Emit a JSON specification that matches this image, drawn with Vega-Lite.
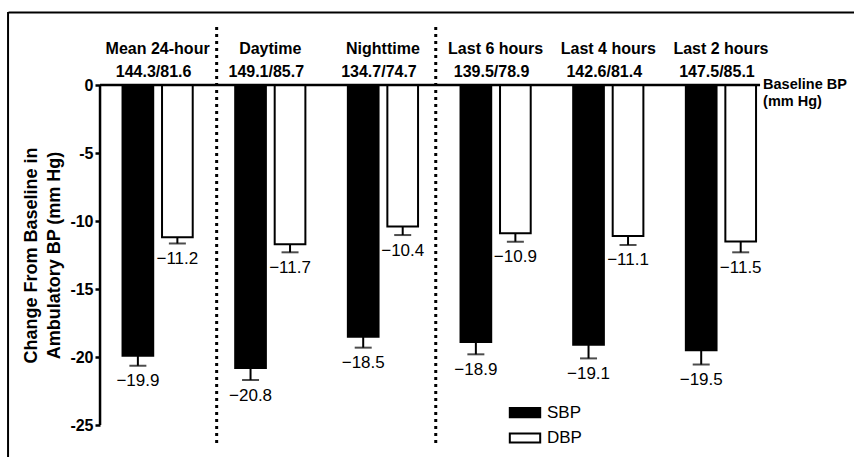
{
  "$schema": "https://vega.github.io/schema/vega-lite/v6.json",
  "width": 846,
  "height": 445,
  "autosize": "none",
  "padding": {"left": 8, "top": 12, "right": 0, "bottom": 0},
  "background": "white",
  "config": {"view": {"stroke": null}, "font": "Liberation Sans", "text": {"font": "Liberation Sans", "color": "black"}},
  "datasets": {
    "bp": [
      {"group": "Mean 24-hour", "series": "SBP", "value": -19.9, "lower": -20.64},
      {"group": "Mean 24-hour", "series": "DBP", "value": -11.2, "lower": -11.65},
      {"group": "Daytime", "series": "SBP", "value": -20.8, "lower": -21.69},
      {"group": "Daytime", "series": "DBP", "value": -11.7, "lower": -12.3},
      {"group": "Nighttime", "series": "SBP", "value": -18.5, "lower": -19.31},
      {"group": "Nighttime", "series": "DBP", "value": -10.4, "lower": -11.03},
      {"group": "Last 6 hours", "series": "SBP", "value": -18.9, "lower": -19.8},
      {"group": "Last 6 hours", "series": "DBP", "value": -10.9, "lower": -11.52},
      {"group": "Last 4 hours", "series": "SBP", "value": -19.1, "lower": -20.1},
      {"group": "Last 4 hours", "series": "DBP", "value": -11.1, "lower": -11.76},
      {"group": "Last 2 hours", "series": "SBP", "value": -19.5, "lower": -20.55},
      {"group": "Last 2 hours", "series": "DBP", "value": -11.5, "lower": -12.3}
    ],
    "groups": [
      {"group": "Mean 24-hour", "baseline": "144.3/81.6"},
      {"group": "Daytime", "baseline": "149.1/85.7"},
      {"group": "Nighttime", "baseline": "134.7/74.7"},
      {"group": "Last 6 hours", "baseline": "139.5/78.9"},
      {"group": "Last 4 hours", "baseline": "142.6/81.4"},
      {"group": "Last 2 hours", "baseline": "147.5/85.1"}
    ],
    "one": [{}]
  },
  "data": {"name": "bp"},
  "layer": [
    {
      "mark": {"type": "bar", "stroke": "black", "strokeWidth": 2},
      "encoding": {
        "x": {"field": "group", "type": "nominal", "sort": null,
          "scale": {"type": "band", "domain": ["Mean 24-hour", "Daytime", "Nighttime", "Last 6 hours", "Last 4 hours", "Last 2 hours"], "paddingInner": 0.377, "paddingOuter": 0.943, "align": 0.539},
          "axis": {"orient": "top", "domain": true, "domainColor": "black", "domainWidth": 2, "labels": false, "ticks": false, "title": null, "grid": false}},
        "xOffset": {"field": "series", "type": "nominal", "scale": {"domain": ["SBP", "DBP"], "paddingInner": 0.223, "paddingOuter": 0}},
        "y": {"field": "value", "type": "quantitative",
          "scale": {"domain": [-27.35, 5.37], "nice": false, "zero": false},
          "axis": {"orient": "left", "offset": -92, "values": [0, -5, -10, -15, -20, -25], "domain": false, "ticks": true, "tickColor": "black", "tickWidth": 2.5, "tickSize": 5, "labelFont": "Liberation Sans", "labelFontSize": 16, "labelFontWeight": "bold", "labelColor": "black", "labelPadding": 2, "grid": false,
            "labelExpr": "datum.value == 0 ? '0' : '-' + abs(datum.value)",
            "title": ["Change From Baseline in", "Ambulatory BP (mm Hg)"], "titleFont": "Liberation Sans", "titleFontSize": 18, "titleFontWeight": "bold", "titleColor": "black", "titleLineHeight": 23, "titleX": -69, "titleY": 243, "titleAlign": "center", "titleBaseline": "middle", "titleAngle": -90}},
        "y2": {"datum": 0},
        "color": {"field": "series", "type": "nominal",
          "scale": {"domain": ["SBP", "DBP"], "range": ["black", "white"]},
          "legend": {"orient": "none", "legendX": 508, "legendY": 391.6, "title": null, "padding": 0,
            "symbolType": "M-2,-0.6H2V0.6H-2Z", "symbolSize": 231, "symbolStrokeColor": "black", "symbolStrokeWidth": 2, "symbolFillColor": null,
            "labelFont": "Liberation Sans", "labelFontSize": 17, "labelColor": "black", "labelOffset": 13, "rowPadding": 7.4}}
      }
    },
    {
      "mark": {"type": "rule", "color": "black", "strokeWidth": 2},
      "encoding": {
        "x": {"field": "group", "type": "nominal", "sort": null, "scale": {"type": "band", "domain": ["Mean 24-hour", "Daytime", "Nighttime", "Last 6 hours", "Last 4 hours", "Last 2 hours"], "paddingInner": 0.377, "paddingOuter": 0.943, "align": 0.539}},
        "xOffset": {"field": "series", "type": "nominal", "scale": {"domain": ["SBP", "DBP"], "paddingInner": 0.223, "paddingOuter": 0}},
        "y": {"field": "value", "type": "quantitative"},
        "y2": {"field": "lower"}
      }
    },
    {
      "mark": {"type": "tick", "orient": "horizontal", "color": "black", "size": 17, "thickness": 2},
      "encoding": {
        "x": {"field": "group", "type": "nominal", "sort": null, "scale": {"type": "band", "domain": ["Mean 24-hour", "Daytime", "Nighttime", "Last 6 hours", "Last 4 hours", "Last 2 hours"], "paddingInner": 0.377, "paddingOuter": 0.943, "align": 0.539}},
        "xOffset": {"field": "series", "type": "nominal", "scale": {"domain": ["SBP", "DBP"], "paddingInner": 0.223, "paddingOuter": 0}},
        "y": {"field": "lower", "type": "quantitative"}
      }
    },
    {
      "mark": {"type": "text", "fontSize": 17, "baseline": "middle", "align": "center", "dy": 15.5, "color": "black"},
      "encoding": {
        "x": {"field": "group", "type": "nominal", "sort": null, "scale": {"type": "band", "domain": ["Mean 24-hour", "Daytime", "Nighttime", "Last 6 hours", "Last 4 hours", "Last 2 hours"], "paddingInner": 0.377, "paddingOuter": 0.943, "align": 0.539}},
        "xOffset": {"field": "series", "type": "nominal", "scale": {"domain": ["SBP", "DBP"], "paddingInner": 0.223, "paddingOuter": 0}},
        "y": {"field": "lower", "type": "quantitative"},
        "text": {"field": "value", "type": "quantitative", "format": ".1f"}
      }
    },
    {
      "data": {"name": "groups"},
      "mark": {"type": "text", "fontSize": 16, "fontWeight": "bold", "baseline": "middle", "align": "center", "dy": -35.7, "color": "black"},
      "encoding": {
        "x": {"field": "group", "type": "nominal", "sort": null, "scale": {"type": "band", "domain": ["Mean 24-hour", "Daytime", "Nighttime", "Last 6 hours", "Last 4 hours", "Last 2 hours"], "paddingInner": 0.377, "paddingOuter": 0.943, "align": 0.539}},
        "y": {"datum": 0, "type": "quantitative"},
        "text": {"field": "group"}
      }
    },
    {
      "data": {"name": "groups"},
      "mark": {"type": "text", "fontSize": 16, "fontWeight": "bold", "baseline": "middle", "align": "center", "dy": -13.3, "dx": -4, "color": "black"},
      "encoding": {
        "x": {"field": "group", "type": "nominal", "sort": null, "scale": {"type": "band", "domain": ["Mean 24-hour", "Daytime", "Nighttime", "Last 6 hours", "Last 4 hours", "Last 2 hours"], "paddingInner": 0.377, "paddingOuter": 0.943, "align": 0.539}},
        "y": {"datum": 0, "type": "quantitative"},
        "text": {"field": "baseline"}
      }
    },
    {
      "data": {"name": "one"},
      "mark": {"type": "rule", "color": "black", "strokeWidth": 2.5},
      "encoding": {
        "x": {"datum": "Mean 24-hour", "bandPosition": -0.3205},
        "y": {"datum": 0, "type": "quantitative"},
        "y2": {"datum": -25}
      }
    },
    {
      "data": {"name": "one"},
      "mark": {"type": "rule", "color": "black", "strokeWidth": 2.5},
      "encoding": {
        "x": {"datum": "Mean 24-hour", "bandPosition": -0.3205},
        "x2": {"datum": "Last 2 hours", "bandPosition": 1.057},
        "y": {"datum": 0, "type": "quantitative"}
      }
    },
    {
      "data": {"name": "one"},
      "mark": {"type": "rule", "color": "black", "strokeWidth": 2},
      "encoding": {
        "x": {"datum": "Mean 24-hour", "bandPosition": -1.631}
      }
    },
    {
      "data": {"name": "one"},
      "mark": {"type": "rule", "color": "black", "strokeWidth": 3, "strokeDash": [3, 4]},
      "encoding": {
        "x": {"datum": "Daytime", "bandPosition": -0.264},
        "y": {"datum": 4.26, "type": "quantitative"},
        "y2": {"datum": -26.47}
      }
    },
    {
      "data": {"name": "one"},
      "mark": {"type": "rule", "color": "black", "strokeWidth": 3, "strokeDash": [3, 4]},
      "encoding": {
        "x": {"datum": "Last 6 hours", "bandPosition": -0.353},
        "y": {"datum": 4.26, "type": "quantitative"},
        "y2": {"datum": -26.47}
      }
    },
    {
      "data": {"name": "one"},
      "mark": {"type": "text", "text": ["Baseline BP", "(mm Hg)"], "fontSize": 14.5, "fontWeight": "bold", "align": "left", "baseline": "middle", "lineHeight": 17.3, "color": "black"},
      "encoding": {
        "x": {"datum": "Last 2 hours", "bandPosition": 1.1},
        "y": {"datum": 0, "type": "quantitative"}
      }
    }
  ]
}
